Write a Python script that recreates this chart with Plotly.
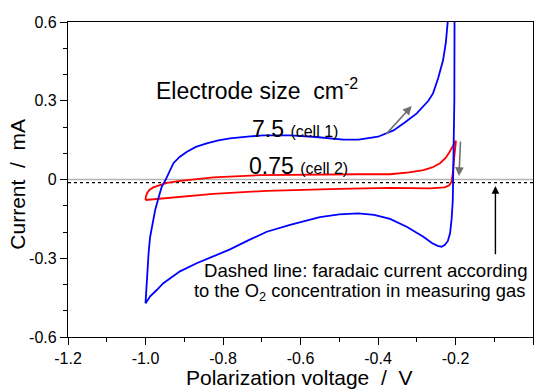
import plotly.graph_objects as go

# ---------------- data ----------------
# cell 1 (electrode 7.5), anodic sweep -1.0 V -> -0.2 V
cell1_fwd_v = [-1.0, -0.998, -0.996, -0.992, -0.988, -0.982, -0.975, -0.966, -0.958, -0.949, -0.936,
               -0.928, -0.912, -0.893, -0.870, -0.842, -0.812, -0.782, -0.730, -0.696, -0.627,
               -0.560, -0.490, -0.450, -0.400, -0.360, -0.330, -0.300, -0.270, -0.258, -0.245,
               -0.232, -0.225, -0.219, -0.214, -0.208]
cell1_fwd_i = [-0.472, -0.41, -0.345, -0.28, -0.218, -0.165, -0.116, -0.068, -0.027, -0.004, 0.036,
               0.062, 0.086, 0.106, 0.124, 0.138, 0.149, 0.157, 0.164, 0.168, 0.168,
               0.162, 0.152, 0.152, 0.163, 0.187, 0.218, 0.252, 0.300, 0.328, 0.385,
               0.455, 0.52, 0.60, 0.70, 0.90]
# cell 1, cathodic sweep -0.2 V -> -1.0 V
cell1_bwd_v = [-0.202, -0.203, -0.205, -0.207, -0.210, -0.214, -0.220, -0.228, -0.236, -0.246,
               -0.260, -0.283, -0.326, -0.369, -0.410, -0.451, -0.500, -0.550, -0.627, -0.687,
               -0.735, -0.782, -0.830, -0.868, -0.911, -0.954, -0.971, -0.988, -1.0]
cell1_bwd_i = [0.90, 0.30, 0.0, -0.08, -0.15, -0.205, -0.235, -0.250, -0.256, -0.253,
               -0.243, -0.218, -0.180, -0.150, -0.135, -0.129, -0.133, -0.143, -0.173, -0.199,
               -0.232, -0.266, -0.296, -0.319, -0.350, -0.395, -0.421, -0.445, -0.472]

# cell 2 (electrode 0.75)
cell2_fwd_v = [-1.0, -0.999, -0.996, -0.990, -0.980, -0.966, -0.945, -0.910, -0.825, -0.700,
               -0.550, -0.450, -0.369, -0.320, -0.283, -0.260, -0.240, -0.225, -0.215, -0.206, -0.199]
cell2_fwd_i = [-0.078, -0.065, -0.052, -0.040, -0.030, -0.022, -0.013, -0.005, 0.008, 0.017,
               0.020, 0.020, 0.020, 0.027, 0.036, 0.046, 0.062, 0.083, 0.106, 0.130, 0.148]
cell2_bwd_v = [-0.199, -0.200, -0.202, -0.204, -0.206, -0.208, -0.210, -0.216, -0.228, -0.266,
               -0.369, -0.500, -0.687, -0.825, -0.954, -1.0]
cell2_bwd_i = [0.148, 0.130, 0.110, 0.075, 0.036, 0.010, -0.008, -0.022, -0.030, -0.034,
               -0.032, -0.036, -0.043, -0.055, -0.070, -0.078]

o2_faradaic_current = -0.012   # dashed line
x_span = [-1.2, 0.0]

x_ticks = [-1.2, -1.0, -0.8, -0.6, -0.4, -0.2, 0.0]
x_ticktext = ["-1.2", "-1.0", "-0.8", "-0.6", "-0.4", "-0.2", "0"]
y_ticks = [-0.6, -0.3, 0.0, 0.3, 0.6]
y_ticktext = ["-0.6", "-0.3", "0", "0.3", "0.6"]

FONT = "Arial, 'Liberation Sans', Helvetica, sans-serif"

fig = go.Figure()

# zero line (gray) and O2 faradaic current (dashed)
fig.add_trace(go.Scatter(x=x_span, y=[0, 0], mode="lines",
                         line=dict(color="#b4b4b4", width=1.3), hoverinfo="skip"))
fig.add_trace(go.Scatter(x=x_span, y=[o2_faradaic_current] * 2, mode="lines",
                         line=dict(color="black", width=1.3, dash="3px,3px"), hoverinfo="skip"))

fig.add_trace(go.Scatter(x=cell2_fwd_v + cell2_bwd_v, y=cell2_fwd_i + cell2_bwd_i, mode="lines",
                         line=dict(color="#ff0000", width=1.8)))
fig.add_trace(go.Scatter(x=cell1_fwd_v + cell1_bwd_v, y=cell1_fwd_i + cell1_bwd_i, mode="lines",
                         line=dict(color="#0000ff", width=1.8)))

axis_common = dict(showgrid=False, zeroline=False, showline=True, linecolor="black", linewidth=1.2,
                   mirror=True, ticks="outside", ticklen=7, tickwidth=1, tickcolor="black",
                   tickfont=dict(family=FONT, size=16, color="black"))

fig.update_xaxes(range=[-1.2, 0.0], tickvals=x_ticks, ticktext=x_ticktext,
                 minor=dict(dtick=0.1, ticks="outside", ticklen=4, tickcolor="black"),
                 **axis_common)
fig.update_yaxes(range=[-0.6, 0.6], tickvals=y_ticks, ticktext=y_ticktext,
                 minor=dict(dtick=0.1, ticks="outside", ticklen=4, tickcolor="black"),
                 **axis_common)

ann = []
# axis titles
ann.append(dict(text="Polarization voltage  /  V", xref="paper", yref="paper", x=0.497, y=-0.128,
                xanchor="center", yanchor="middle", showarrow=False,
                font=dict(family=FONT, size=21, color="black")))
ann.append(dict(text="Current  /  mA", xref="paper", yref="paper", x=-0.108, y=0.486,
                xanchor="center", yanchor="middle", textangle=-90, showarrow=False,
                font=dict(family=FONT, size=21, color="black")))
# labels
ann.append(dict(text="Electrode size  cm<sup>-2</sup>", x=-0.978, y=0.345, xanchor="left",
                yanchor="middle", showarrow=False, font=dict(family=FONT, size=23, color="black")))
ann.append(dict(text="7.5 <span style='font-size:16px'>(cell 1)</span>", x=-0.730, y=0.192,
                xanchor="left", yanchor="middle", showarrow=False,
                font=dict(family=FONT, size=23, color="black")))
ann.append(dict(text="0.75 <span style='font-size:16px'>(cell 2)</span>", x=-0.738, y=0.052,
                xanchor="left", yanchor="middle", showarrow=False,
                font=dict(family=FONT, size=23, color="black")))
ann.append(dict(text="Dashed line: faradaic current according", x=-0.008, y=-0.345,
                xanchor="right", yanchor="middle", showarrow=False,
                font=dict(family=FONT, size=18.6, color="black")))
ann.append(dict(text="to the O<sub>2</sub> concentration in measuring gas", x=-0.015, y=-0.43,
                xanchor="right", yanchor="middle", showarrow=False,
                font=dict(family=FONT, size=18.3, color="black")))
# arrows
ann.append(dict(x=-0.313, y=0.280, ax=-0.382, ay=0.168, xref="x", yref="y", axref="x", ayref="y",
                text="", showarrow=True, arrowhead=2, arrowsize=1.1, arrowwidth=1.6, arrowcolor="#707070"))
ann.append(dict(x=-0.191, y=0.013, ax=-0.187, ay=0.150, xref="x", yref="y", axref="x", ayref="y",
                text="", showarrow=True, arrowhead=2, arrowsize=1.1, arrowwidth=1.6, arrowcolor="#707070"))
ann.append(dict(x=-0.097, y=-0.025, ax=-0.097, ay=-0.29, xref="x", yref="y", axref="x", ayref="y",
                text="", showarrow=True, arrowhead=2, arrowsize=1.1, arrowwidth=1.4, arrowcolor="black"))

fig.update_layout(width=537, height=389, margin=dict(l=68, r=4, t=22, b=52),
                  paper_bgcolor="white", plot_bgcolor="white", showlegend=False,
                  annotations=ann, font=dict(family=FONT))

fig.write_html("out.html")
